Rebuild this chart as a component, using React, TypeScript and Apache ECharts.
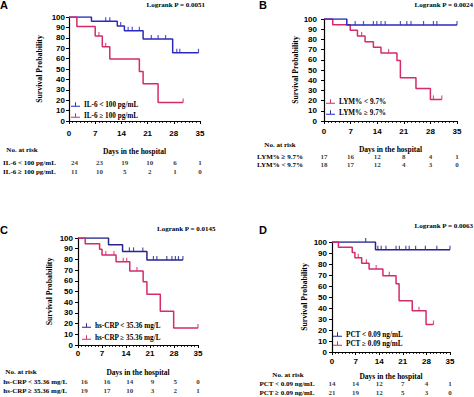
import React, { useEffect, useRef } from 'react';
import * as echarts from 'echarts';

// ---------- data ----------
const riskTimes = [0, 7, 14, 21, 28, 35];
const xTicks = [0, 7, 14, 21, 28, 35];

// Panel A
const aLowName = 'IL-6 < 100 pg/mL';
const aLowTimes = [0, 6, 12.9, 14.8, 19.8, 27.7, 34.6];
const aLowSurv = [100, 95.8, 91.3, 86.7, 78.8, 65.6, 65.6];
const aLowCensor = [9.8, 10.9, 13.8, 15.8, 16.9, 18.8, 22, 23.8, 25.8, 28.8, 29.6, 34.6];
const aHighName = 'IL-6 ≥ 100 pg/mL';
const aHighTimes = [0, 2.1, 7, 8.9, 10.9, 18.8, 19.8, 23.8, 30.5];
const aHighSurv = [100, 90.9, 81.8, 71.5, 59.6, 47.7, 35.8, 17.9, 17.9];
const aHighCensor = [8, 9.8, 30.5];
const aRiskLow = [24, 23, 19, 10, 6, 1];
const aRiskHigh = [11, 10, 5, 2, 1, 0];

// Panel B
const bHighName = 'LYM% ≥ 9.7%';
const bHighTimes = [0, 6, 35];
const bHighSurv = [100, 94.1, 94.1];
const bHighCensor = [8.2, 10.4, 13, 13.9, 15, 16.1, 20.1, 21.8, 22.9, 26.2, 28.8, 29.7, 35];
const bLowName = 'LYM% < 9.7%';
const bLowTimes = [0, 2.3, 6.9, 8.8, 10.8, 13, 15, 19.2, 20.1, 24.2, 28, 31];
const bLowSurv = [100, 94.4, 88.9, 83.3, 77.8, 72.2, 66.7, 59.3, 42.4, 31.8, 21.2, 21.2];
const bLowCensor = [9.9, 17, 28.8, 31];
const bRiskHigh = [17, 16, 12, 8, 4, 1];
const bRiskLow = [18, 17, 12, 4, 3, 0];

// Panel C
const cLowName = 'hs-CRP < 35.36 mg/L';
const cLowTimes = [0, 8.9, 13, 20.1, 30.6];
const cLowSurv = [100, 93.8, 87.5, 79.5, 79.5];
const cLowCensor = [15, 16.2, 18.9, 22, 23, 25.9, 27.4, 28.4, 29.3, 30.6];
const cHighName = 'hs-CRP ≥ 35.36 mg/L';
const cHighTimes = [0, 2.1, 6.3, 7, 11.1, 15.1, 19, 20.1, 24, 27.9, 35];
const cHighSurv = [100, 94.7, 89.5, 84.2, 77.7, 69.1, 59.2, 47.4, 31.6, 15.8, 15.8];
const cHighCensor = [8.1, 10.5, 13.2, 14.2, 17.2, 35];
const cRiskLow = [16, 16, 14, 9, 5, 0];
const cRiskHigh = [19, 17, 10, 3, 2, 1];

// Panel D
const dLowName = 'PCT < 0.09 ng/mL';
const dLowTimes = [0, 12.9, 35];
const dLowSurv = [100, 92.9, 92.9];
const dLowCensor = [10, 13.6, 14.6, 16, 19, 20, 21.9, 22.9, 24.8, 27.7, 31.1, 35];
const dHighName = 'PCT ≥ 0.09 ng/mL';
const dHighTimes = [0, 1.9, 6, 6.8, 8.8, 11, 15.1, 19, 19.9, 23.8, 27.9, 30.1];
const dHighSurv = [100, 95.2, 90.5, 85.7, 80.7, 75.5, 69.3, 62, 46.6, 37.6, 25, 25];
const dHighCensor = [7.8, 10.2, 13.1, 17, 25.8, 30.1];
const dRiskLow = [14, 14, 12, 7, 4, 1];
const dRiskHigh = [21, 19, 12, 5, 3, 0];

const pValues = ['Logrank P = 0.0051', 'Logrank P = 0.0024', 'Logrank P = 0.0145', 'Logrank P = 0.0063'];

// ---------- styles ----------
const BLUE_AB = '#2b2bbb';
const BLUE_CD = '#25258f';
const PINK = '#d42b6b';
const SERIF = '"Liberation Serif", "DejaVu Serif", serif';
const SANS = '"Liberation Sans", Arial, sans-serif';
const TABLE_FS = 7;
const LEGEND_FS = 7.2;

type Curve = { name: string; color: string; times: number[]; surv: number[]; censor: number[] };
type Panel = {
  letter: string; letterPos: [number, number];
  pText: string; pPos: [number, number]; pAlign: string;
  grid: { left: number; top: number; width: number; height: number };
  yOffset: number; xLabelMargin: number; xNameGap: number; yNameGap: number;
  risk: { top: number; height: number; margin: number };
  noRisk: [number, number];
  legend: { left: number; top: number; gap: number };
  curves: Curve[];
  riskRows: { label: string; values: number[] }[];
};

const panels: Panel[] = [
  {
    letter: 'A', letterPos: [0, 5], pText: pValues[0], pPos: [205, 5], pAlign: 'right',
    grid: { left: 69, top: 17, width: 131, height: 104 },
    yOffset: 1, xLabelMargin: 8, xNameGap: 26, yNameGap: 25,
    risk: { top: 158, height: 18, margin: 45 }, noRisk: [22, 150],
    legend: { left: 71, top: 101, gap: 4 },
    curves: [
      { name: aLowName, color: BLUE_AB, times: aLowTimes, surv: aLowSurv, censor: aLowCensor },
      { name: aHighName, color: PINK, times: aHighTimes, surv: aHighSurv, censor: aHighCensor },
    ],
    riskRows: [{ label: aLowName, values: aRiskLow }, { label: aHighName, values: aRiskHigh }],
  },
  {
    letter: 'B', letterPos: [259, 5], pText: pValues[1], pPos: [473, 5], pAlign: 'right',
    grid: { left: 324, top: 19, width: 133, height: 102 },
    yOffset: 4, xLabelMargin: 6, xNameGap: 24, yNameGap: 20,
    risk: { top: 153, height: 16, margin: 44 }, noRisk: [280, 145],
    legend: { left: 326, top: 98, gap: 4 },
    curves: [
      { name: bLowName, color: PINK, times: bLowTimes, surv: bLowSurv, censor: bLowCensor },
      { name: bHighName, color: BLUE_AB, times: bHighTimes, surv: bHighSurv, censor: bHighCensor },
    ],
    riskRows: [{ label: bHighName, values: bRiskHigh }, { label: bLowName, values: bRiskLow }],
  },
  {
    letter: 'C', letterPos: [0, 230], pText: pValues[2], pPos: [157, 229], pAlign: 'left',
    grid: { left: 78, top: 238, width: 120, height: 107 },
    yOffset: 2, xLabelMargin: 4, xNameGap: 23, yNameGap: 23,
    risk: { top: 377.5, height: 18, margin: 49 }, noRisk: [21, 372],
    legend: { left: 82, top: 322, gap: 5 },
    curves: [
      { name: cLowName, color: BLUE_CD, times: cLowTimes, surv: cLowSurv, censor: cLowCensor },
      { name: cHighName, color: PINK, times: cHighTimes, surv: cHighSurv, censor: cHighCensor },
    ],
    riskRows: [{ label: cLowName, values: cRiskLow }, { label: cHighName, values: cRiskHigh }],
  },
  {
    letter: 'D', letterPos: [259, 230], pText: pValues[3], pPos: [473, 226], pAlign: 'right',
    grid: { left: 332, top: 242, width: 118, height: 110 },
    yOffset: 2, xLabelMargin: 5, xNameGap: 20, yNameGap: 22,
    risk: { top: 379.5, height: 18, margin: 45 }, noRisk: [288, 375],
    legend: { left: 333, top: 331, gap: 2 },
    curves: [
      { name: dLowName, color: BLUE_CD, times: dLowTimes, surv: dLowSurv, censor: dLowCensor },
      { name: dHighName, color: PINK, times: dHighTimes, surv: dHighSurv, censor: dHighCensor },
    ],
    riskRows: [{ label: dLowName, values: dRiskLow }, { label: dHighName, values: dRiskHigh }],
  },
];

function survAt(times: number[], surv: number[], t: number) {
  let v = surv[0];
  for (let i = 0; i < times.length; i++) if (times[i] <= t) v = surv[i];
  return v;
}

const LEGEND_ICON = 'path://M0,8h22v2.4H0z M9.8,0h2.4v9H9.8z';
const CENSOR_SYMBOL = 'path://M0,0h1v10H0z';

function buildOption() {
  const grid: any[] = [];
  const xAxis: any[] = [];
  const yAxis: any[] = [];
  const series: any[] = [];
  const legend: any[] = [];
  const graphic: any[] = [];

  panels.forEach((p, i) => {
    const gi = 2 * i;
    const ri = 2 * i + 1;
    grid[gi] = { ...p.grid, containLabel: false };
    xAxis[gi] = {
      type: 'value', gridIndex: gi, min: 0, max: 35, interval: 7,
      name: 'Days in the hospital', nameLocation: 'middle', nameGap: p.xNameGap,
      nameTextStyle: { fontFamily: SERIF, fontWeight: 'bold', fontSize: 7.5, color: '#000' },
      axisLine: { show: true, lineStyle: { color: '#000', width: 1.2 } },
      axisTick: { show: true, length: 3, lineStyle: { color: '#000', width: 1 } },
      minorTick: { show: true, splitNumber: 7, length: 2, lineStyle: { color: '#000', width: 0.8 } },
      axisLabel: {
        margin: p.xLabelMargin, fontFamily: SANS, fontWeight: 'bold', fontSize: 8, color: '#000',
        formatter: (v: number) => (xTicks.includes(v) ? String(v) : ''),
      },
      splitLine: { show: false },
    };
    yAxis[gi] = {
      type: 'value', gridIndex: gi, min: 0, max: 100, interval: 10, offset: p.yOffset,
      name: 'Survival Probability', nameLocation: 'middle', nameGap: p.yNameGap,
      nameTextStyle: { fontFamily: SERIF, fontWeight: 'bold', fontSize: 7.8, color: '#000' },
      axisLine: { show: true, lineStyle: { color: '#000', width: 1.2 } },
      axisTick: { show: true, length: 3, lineStyle: { color: '#000', width: 1 } },
      axisLabel: { margin: 3, fontFamily: SANS, fontWeight: 'bold', fontSize: 8, color: '#000' },
      splitLine: { show: false },
    };
    p.curves.forEach((c) => {
      series.push({
        type: 'line', name: c.name, xAxisIndex: gi, yAxisIndex: gi, step: 'end',
        showSymbol: false, symbol: 'none', color: c.color,
        lineStyle: { color: c.color, width: 1.5 },
        data: c.times.map((t, k) => [t, c.surv[k]]),
        z: 3,
      });
      series.push({
        type: 'scatter', name: c.name + ' censored', xAxisIndex: gi, yAxisIndex: gi,
        symbol: CENSOR_SYMBOL, symbolSize: [1.2, 4], symbolOffset: [0, -2],
        itemStyle: { color: c.color }, silent: true,
        data: c.censor.map((t) => [t, survAt(c.times, c.surv, t)]),
        z: 4,
      });
    });
    legend.push({
      data: p.curves.map((c) => c.name), orient: 'vertical', left: p.legend.left, top: p.legend.top,
      itemWidth: 9, itemHeight: 6, itemGap: p.legend.gap, padding: 0, icon: LEGEND_ICON,
      selectedMode: false,
      textStyle: { fontFamily: SERIF, fontWeight: 'bold', fontSize: LEGEND_FS, color: '#000', padding: [0, 0, 0, -1] },
    });

    // risk table grid
    grid[ri] = { left: p.grid.left, width: p.grid.width, top: p.risk.top, height: p.risk.height };
    xAxis[ri] = { type: 'value', gridIndex: ri, min: 0, max: 35, show: false };
    yAxis[ri] = {
      type: 'category', gridIndex: ri, inverse: true, data: p.riskRows.map((r) => r.label),
      axisLine: { show: false }, axisTick: { show: false }, splitLine: { show: false },
      axisLabel: { interval: 0, margin: p.risk.margin, align: 'center', fontFamily: SERIF, fontWeight: 'bold', fontSize: TABLE_FS, color: '#000' },
    };
    const riskData: any[] = [];
    p.riskRows.forEach((r, rowIdx) => r.values.forEach((v, j) => riskData.push([riskTimes[j], rowIdx, v])));
    series.push({
      type: 'scatter', name: 'risk' + p.letter, xAxisIndex: ri, yAxisIndex: ri,
      symbolSize: 1, itemStyle: { color: 'rgba(0,0,0,0)' }, silent: true,
      label: {
        show: true, position: 'inside', formatter: (q: any) => String(q.value[2]),
        fontFamily: SERIF, fontWeight: 'bold', fontSize: TABLE_FS, color: '#000',
      },
      labelLayout: { hideOverlap: false },
      data: riskData,
    });

    graphic.push({
      type: 'text', x: p.letterPos[0], y: p.letterPos[1],
      style: { text: p.letter, fontFamily: SANS, fontWeight: 'bold', fontSize: 11, fill: '#000', textVerticalAlign: 'middle' },
    });
    graphic.push({
      type: 'text', x: p.pPos[0], y: p.pPos[1],
      style: { text: p.pText, fontFamily: SERIF, fontWeight: 'bold', fontSize: 7, fill: '#000', textAlign: p.pAlign, textVerticalAlign: 'middle' },
    });
    graphic.push({
      type: 'text', x: p.noRisk[0], y: p.noRisk[1],
      style: { text: 'No. at risk', fontFamily: SERIF, fontWeight: 'bold', fontSize: TABLE_FS, fill: '#000', textAlign: 'center', textVerticalAlign: 'middle' },
    });
  });

  return {
    animation: false,
    backgroundColor: '#fff',
    textStyle: { fontFamily: SERIF },
    grid, xAxis, yAxis, series, legend, graphic,
  };
}

export default function App() {
  const ref = useRef<HTMLDivElement>(null);
  useEffect(() => {
    if (!ref.current) return;
    const chart = echarts.init(ref.current, null, { renderer: 'svg' });
    chart.setOption(buildOption() as any);
    return () => chart.dispose();
  }, []);
  return <div ref={ref} style={{ width: 474, height: 397, position: 'absolute', left: 0, top: 0 }} />;
}
